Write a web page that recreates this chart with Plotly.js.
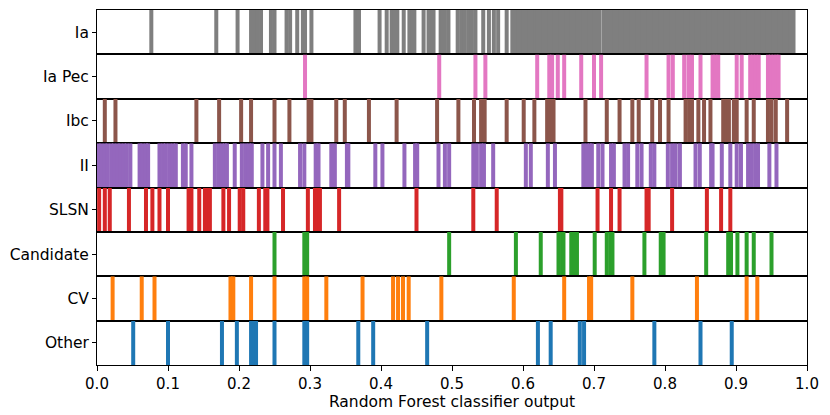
<!DOCTYPE html>
<html>
<head>
<meta charset="utf-8">
<script src="https://cdn.plot.ly/plotly-3.0.1.min.js"></script>
<style>
  html, body { margin: 0; padding: 0; background: #ffffff; }
  #chart { width: 830px; height: 415px; }
</style>
</head>
<body>
<div id="chart"></div>
<script>
/* Rug plot of Random Forest classifier output, one strip per class */

const classLabels = ['Ia', 'Ia Pec', 'Ibc', 'II', 'SLSN', 'Candidate', 'CV', 'Other'];
const classColors = ['#7f7f7f', '#e377c2', '#8c564b', '#9467bd', '#d62728', '#2ca02c', '#ff7f0e', '#1f77b4'];

const iaScores = [
  0.0765, 0.168, 0.198, 0.217, 0.222, 0.226, 0.231, 0.245, 0.250, 0.267, 0.272,
  0.282, 0.290, 0.293, 0.302, 0.364, 0.369, 0.398, 0.408, 0.415, 0.419, 0.423,
  0.432, 0.440, 0.444, 0.447, 0.460, 0.467, 0.471, 0.474, 0.484, 0.486, 0.490,
  0.495, 0.508, 0.513, 0.518, 0.523, 0.528, 0.533, 0.544, 0.552, 0.559, 0.565,
  0.577, 0.585, 0.589, 0.593, 0.597, 0.601, 0.605, 0.609, 0.613, 0.617, 0.620,
  0.625, 0.629, 0.633, 0.637, 0.641, 0.645, 0.649, 0.653, 0.657, 0.661, 0.665,
  0.669, 0.673, 0.677, 0.681, 0.685, 0.689, 0.693, 0.697, 0.701, 0.705, 0.708,
  0.714, 0.717, 0.721, 0.725, 0.729, 0.733, 0.737, 0.741, 0.745, 0.749, 0.753,
  0.757, 0.761, 0.765, 0.769, 0.773, 0.777, 0.781, 0.785, 0.789, 0.793, 0.797,
  0.801, 0.805, 0.809, 0.813, 0.817, 0.821, 0.825, 0.829, 0.833, 0.837, 0.841,
  0.845, 0.849, 0.853, 0.857, 0.861, 0.865, 0.869, 0.873, 0.877, 0.881, 0.885,
  0.889, 0.893, 0.897, 0.901, 0.905, 0.909, 0.913, 0.917, 0.921, 0.925, 0.929,
  0.933, 0.937, 0.941, 0.945, 0.949, 0.953, 0.957, 0.961, 0.965, 0.969, 0.973,
  0.977, 0.981
];

const iaPecScores = [
  0.293, 0.482, 0.533, 0.547, 0.620, 0.637, 0.641, 0.649, 0.658, 0.682, 0.700,
  0.710, 0.774, 0.805, 0.811, 0.827, 0.833, 0.838, 0.850, 0.867, 0.871, 0.875,
  0.901, 0.908, 0.920, 0.924, 0.928, 0.932, 0.945, 0.949, 0.953, 0.957, 0.960
];

const ibcScores = [
  0.011, 0.026, 0.140, 0.172, 0.203, 0.217, 0.250, 0.271, 0.298, 0.302, 0.337,
  0.349, 0.383, 0.422, 0.479, 0.509, 0.531, 0.541, 0.546, 0.577, 0.601, 0.616,
  0.634, 0.638, 0.643, 0.688, 0.718, 0.736, 0.754, 0.763, 0.782, 0.793, 0.805,
  0.829, 0.834, 0.838, 0.847, 0.855, 0.864, 0.882, 0.887, 0.890, 0.897, 0.901,
  0.915, 0.925, 0.945, 0.950, 0.956, 0.972
];

const iiScores = [
  0.002, 0.006, 0.011, 0.015, 0.020, 0.024, 0.029, 0.033, 0.038, 0.042, 0.047,
  0.060, 0.064, 0.069, 0.072, 0.088, 0.093, 0.097, 0.102, 0.107, 0.111, 0.121,
  0.125, 0.133, 0.166, 0.171, 0.176, 0.180, 0.183, 0.194, 0.204, 0.209, 0.214,
  0.218, 0.233, 0.241, 0.250, 0.259, 0.286, 0.292, 0.308, 0.312, 0.330, 0.335,
  0.352, 0.354, 0.392, 0.402, 0.433, 0.448, 0.451, 0.481, 0.490, 0.496, 0.530,
  0.535, 0.541, 0.545, 0.558, 0.604, 0.611, 0.635, 0.645, 0.685, 0.690, 0.694,
  0.697, 0.706, 0.712, 0.724, 0.728, 0.743, 0.748, 0.761, 0.767, 0.780, 0.785,
  0.804, 0.810, 0.815, 0.821, 0.843, 0.849, 0.865, 0.867, 0.880, 0.892, 0.901,
  0.907, 0.917, 0.922, 0.927, 0.931, 0.947, 0.957
];

const slsnScores = [
  0.003, 0.011, 0.018, 0.045, 0.069, 0.078, 0.088, 0.100, 0.129, 0.133, 0.144,
  0.152, 0.156, 0.159, 0.178, 0.186, 0.201, 0.206, 0.228, 0.237, 0.240, 0.262,
  0.297, 0.307, 0.311, 0.314, 0.341, 0.450, 0.530, 0.563, 0.652, 0.654, 0.705,
  0.724, 0.736, 0.774, 0.777, 0.810, 0.859, 0.879, 0.892
];

const candidateScores = [
  0.250, 0.292, 0.296, 0.496, 0.590, 0.625, 0.650, 0.655, 0.657, 0.668, 0.673,
  0.676, 0.701, 0.718, 0.723, 0.726, 0.771, 0.794, 0.798, 0.858, 0.889, 0.893,
  0.902, 0.915, 0.925, 0.950
];

const cvScores = [
  0.022, 0.063, 0.081, 0.188, 0.192, 0.217, 0.250, 0.292, 0.296, 0.323, 0.374,
  0.417, 0.424, 0.431, 0.439, 0.485, 0.587, 0.658, 0.693, 0.696, 0.754, 0.845,
  0.915, 0.930
];

const otherScores = [
  0.051, 0.100, 0.176, 0.197, 0.217, 0.222, 0.224, 0.250, 0.292, 0.296, 0.368,
  0.389, 0.465, 0.621, 0.639, 0.680, 0.686, 0.785, 0.850, 0.894
];

const xTickVals = [0.0, 0.1, 0.2, 0.3, 0.4, 0.5, 0.6, 0.7, 0.8, 0.9, 1.0];
const xTickText = ['0.0', '0.1', '0.2', '0.3', '0.4', '0.5', '0.6', '0.7', '0.8', '0.9', '1.0'];

const allScores = [iaScores, iaPecScores, ibcScores, iiScores, slsnScores, candidateScores, cvScores, otherScores];

const FONT = "'DejaVu Sans', 'Liberation Sans', sans-serif";

/* ── Build one line trace per class: x=[v,v,null,...], y=[0,1,null,...] ── */

function rugTrace(scores, color, idx) {
  const xs = [];
  const ys = [];
  scores.forEach(v => {
    xs.push(v, v, null);
    ys.push(0, 1, null);
  });
  const suffix = idx === 0 ? '' : String(idx + 1);
  return {
    type: 'scatter',
    mode: 'lines',
    x: xs,
    y: ys,
    xaxis: 'x' + suffix,
    yaxis: 'y' + suffix,
    line: { color: color, width: 4 },
    hoverinfo: 'skip',
    showlegend: false,
  };
}

const traces = allScores.map((s, i) => rugTrace(s, classColors[i], i));

/* ── Layout: 8 stacked strips sharing one x range ── */

const layout = {
  width: 830,
  height: 415,
  margin: { l: 97, r: 23, t: 10, b: 50 },
  paper_bgcolor: '#ffffff',
  plot_bgcolor: '#ffffff',
  font: { family: FONT, color: '#000000', size: 15 },
  showlegend: false,
};

const n = classLabels.length;
for (let i = 0; i < n; i++) {
  const suffix = i === 0 ? '' : String(i + 1);
  const isBottom = i === n - 1;
  const top = 1 - i / n;
  const bottom = 1 - (i + 1) / n;

  layout['xaxis' + suffix] = {
    domain: [0, 1],
    anchor: 'y' + suffix,
    range: [0, 1],
    matches: i === 0 ? undefined : 'x',
    showgrid: false,
    zeroline: false,
    showline: true,
    mirror: true,
    linecolor: '#000000',
    linewidth: 1,
    tickvals: xTickVals,
    ticktext: xTickText,
    ticks: isBottom ? 'outside' : '',
    ticklen: 5,
    tickwidth: 1,
    tickcolor: '#000000',
    showticklabels: isBottom,
    tickfont: { family: FONT, size: 15, color: '#000000' },
    title: isBottom ? { text: 'Random Forest classifier output', font: { family: FONT, size: 15.5, color: '#000000' }, standoff: 0 } : undefined,
  };

  layout['yaxis' + suffix] = {
    domain: [bottom, top],
    anchor: 'x' + suffix,
    range: [0, 1],
    fixedrange: true,
    showgrid: false,
    zeroline: false,
    showline: true,
    mirror: true,
    linecolor: '#000000',
    linewidth: 1,
    tickvals: [0.5],
    ticktext: [classLabels[i]],
    ticks: 'outside',
    ticklen: 4,
    tickwidth: 1,
    tickcolor: '#000000',
    tickfont: { family: FONT, size: 15.5, color: '#000000' },
  };
}

Plotly.newPlot('chart', traces, layout, { staticPlot: true, displayModeBar: false });
</script>
</body>
</html>
